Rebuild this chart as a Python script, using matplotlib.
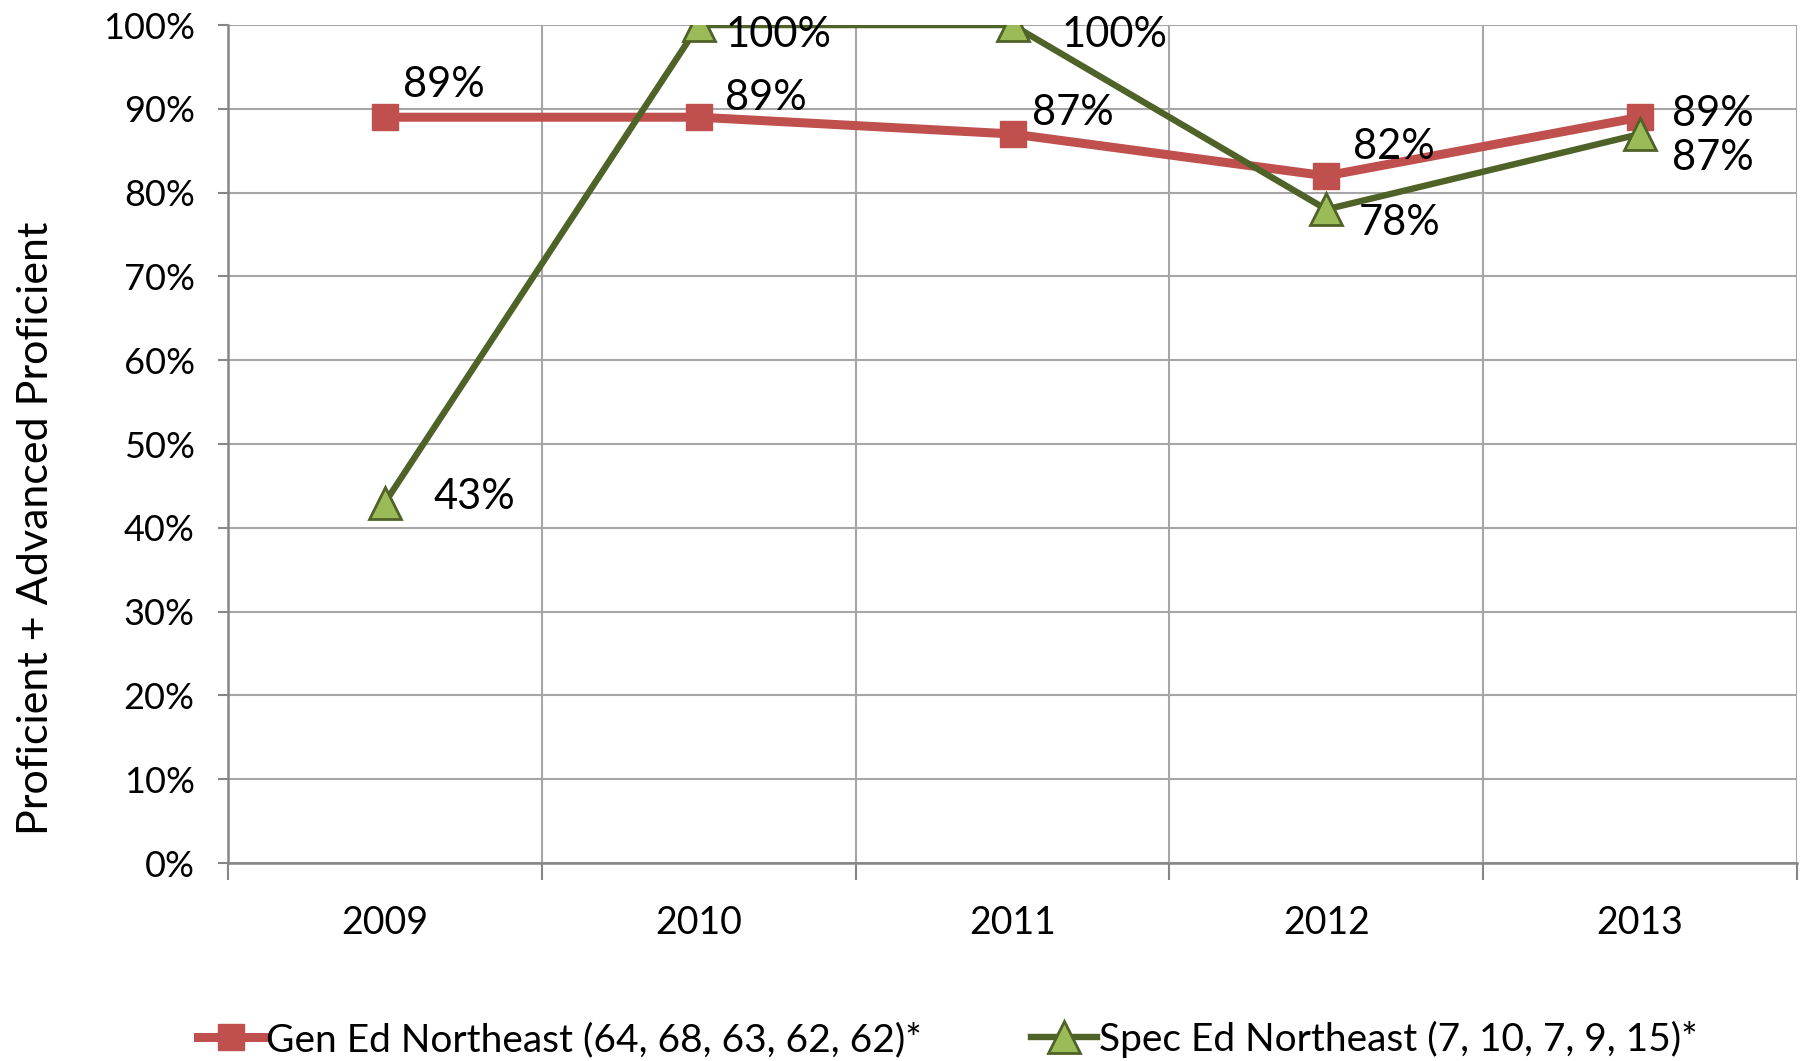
import matplotlib

matplotlib.use("Agg")

import matplotlib.pyplot as plt
from matplotlib.ticker import FixedLocator, PercentFormatter

plt.rcParams["font.family"] = ["Lato", "DejaVu Sans"]

years = ["2009", "2010", "2011", "2012", "2013"]
gen_ed = [89, 89, 87, 82, 89]
spec_ed = [43, 100, 100, 78, 87]
gen_label = "Gen Ed Northeast (64, 68, 63, 62, 62)*"
spec_label = "Spec Ed Northeast (7, 10, 7, 9, 15)*"

# label offsets in points (dx, dy)
gen_offsets = [(13, 23), (19, 14), (14, 15), (19, 21), (23, 2)]
spec_offsets = [(35, 4), (19, -7), (35, -7), (23, -10), (23, -17)]

RED = "#C0504D"
GREEN_LINE = "#4F6228"
GREEN_FILL = "#9BBB59"
GRID = "#A6A6A6"

fig = plt.figure(figsize=(18.05, 10.61), dpi=100)
ax = fig.add_axes([0.1263, 0.1866, 0.8693, 0.7898])

x = list(range(len(years)))
ax.plot(x, gen_ed, color=RED, linewidth=6.5, marker="s", markersize=19,
        markerfacecolor=RED, markeredgecolor=RED, label=gen_label, zorder=3)
ax.plot(x, spec_ed, color=GREEN_LINE, linewidth=4.6, marker="^", markersize=23,
        markerfacecolor=GREEN_FILL, markeredgecolor=GREEN_LINE, markeredgewidth=2,
        label=spec_label, zorder=4)

for xi, v, (dx, dy) in zip(x, gen_ed, gen_offsets):
    ax.annotate(f"{v}%", (xi, v), xytext=(dx, dy), textcoords="offset points",
                ha="left", va="center", fontsize=30, zorder=5)
for xi, v, (dx, dy) in zip(x, spec_ed, spec_offsets):
    ax.annotate(f"{v}%", (xi, v), xytext=(dx, dy), textcoords="offset points",
                ha="left", va="center", fontsize=30, zorder=5)

ax.set_xlim(-0.5, len(years) - 0.5)
ax.set_ylim(0, 100)
ax.set_yticks(range(0, 101, 10))
ax.yaxis.set_major_formatter(PercentFormatter(decimals=0))
ax.set_xticks(x)
ax.set_xticklabels(years)
ax.xaxis.set_minor_locator(FixedLocator([i - 0.5 for i in range(len(years) + 1)]))

ax.grid(axis="y", which="major", color=GRID, linewidth=1.5)
ax.grid(axis="x", which="minor", color=GRID, linewidth=1.5)
ax.tick_params(axis="x", which="major", length=0, labelsize=27, pad=30)
ax.tick_params(axis="x", which="minor", length=12, width=1.5, color="#868686")
ax.tick_params(axis="y", which="major", length=7, width=1.5, color="#868686", labelsize=26, pad=17)

for side in ["top", "right"]:
    ax.spines[side].set_visible(False)
for side in ["left", "bottom"]:
    ax.spines[side].set_color("#868686")
    ax.spines[side].set_linewidth(1.8)

ax.set_ylabel("Proficient + Advanced Proficient", fontsize=31)
ax.yaxis.set_label_coords(-0.11, 0.40)

fig.legend(loc="lower center", bbox_to_anchor=(0.525, -0.03), ncol=2, frameon=False,
           fontsize=28, handlelength=1.7, handletextpad=0.05, columnspacing=2.8)

fig.savefig("out.png", dpi=100)
